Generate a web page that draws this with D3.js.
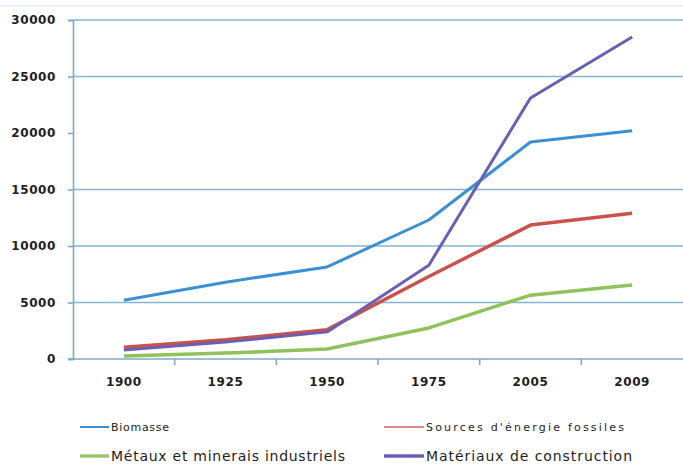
<!DOCTYPE html>
<html>
<head>
<meta charset="utf-8">
<script src="https://cdn.jsdelivr.net/npm/d3@7/dist/d3.min.js"></script>
<style>
  html, body { margin: 0; padding: 0; background: #ffffff; }
  svg { display: block; }
  text { font-family: "DejaVu Sans", Verdana, sans-serif; fill: #1e1e1e; }
</style>
</head>
<body>
<svg id="chart" width="683" height="468"></svg>
<script>
// Consommation de matières (millions de tonnes) par grande catégorie
const years = ["1900", "1925", "1950", "1975", "2005", "2009"];
const biomasse = [5200, 6800, 8150, 12300, 19200, 20200];
const fossiles = [1050, 1700, 2600, 7300, 11850, 12900];
const metaux = [260, 520, 880, 2750, 5650, 6550];
const materiaux = [800, 1500, 2400, 8300, 23100, 28500];
const yTicks = [0, 5000, 10000, 15000, 20000, 25000, 30000];
const gridTicks = [5000, 10000, 15000, 25000, 30000];

const seriesNames = ["Biomasse", "Sources d'énergie fossiles", "Métaux et minerais industriels", "Matériaux de construction"];
const seriesColors = ["#3b8fd3", "#c9524c", "#8fc25a", "#6a5fb3"];

const series = [
  { name: seriesNames[0], values: biomasse, color: seriesColors[0], width: 3 },
  { name: seriesNames[1], values: fossiles, color: seriesColors[1], width: 3.5 },
  { name: seriesNames[2], values: metaux, color: seriesColors[2], width: 3.5 },
  { name: seriesNames[3], values: materiaux, color: seriesColors[3], width: 3 }
];

const svg = d3.select("#chart");
const plotLeft = 73, plotRight = 683, plotTop = 20, plotBottom = 359;

const x = d3.scaleBand().domain(years).range([plotLeft, plotRight]).padding(0);
const y = d3.scaleLinear().domain([0, 30000]).range([plotBottom, plotTop]);

// faint outer frame line at the top
svg.append("line")
  .attr("x1", 0).attr("x2", 683).attr("y1", 6).attr("y2", 6)
  .attr("stroke", "#e2eef4").attr("stroke-width", 1.5);

// horizontal gridlines
svg.append("g")
  .selectAll("line")
  .data(gridTicks)
  .join("line")
  .attr("x1", plotLeft).attr("x2", plotRight)
  .attr("y1", d => y(d)).attr("y2", d => y(d))
  .attr("stroke", "#86b3cf").attr("stroke-width", 1.6);

// y axis
const yAxis = d3.axisLeft(y).tickValues(yTicks).tickSize(5).tickPadding(12)
  .tickFormat(d3.format("d"));
const gy = svg.append("g").attr("transform", `translate(${plotLeft},0)`).call(yAxis);
gy.select(".domain").attr("stroke", "#7fa9c4").attr("stroke-width", 1.6);
gy.selectAll(".tick line").attr("stroke", "#7fa9c4").attr("stroke-width", 1.6);
gy.selectAll(".tick text")
  .attr("font-size", 12).attr("font-weight", "bold")
  .attr("letter-spacing", "0.6px")
  .style("font-family", "'DejaVu Sans', sans-serif")
  .attr("fill", "#222");

// x axis with ticks at category boundaries
const xAxis = d3.axisBottom(x).tickSize(0).tickPadding(18);
const gx = svg.append("g").attr("transform", `translate(0,${plotBottom})`).call(xAxis);
gx.select(".domain").remove();
gx.selectAll(".tick text")
  .attr("font-size", 12).attr("font-weight", "bold")
  .attr("letter-spacing", "0.6px")
  .style("font-family", "'DejaVu Sans', sans-serif")
  .attr("fill", "#222");
svg.append("line")
  .attr("x1", plotLeft - 5).attr("x2", plotRight)
  .attr("y1", plotBottom).attr("y2", plotBottom)
  .attr("stroke", "#7fa9c4").attr("stroke-width", 1.6);
svg.append("g")
  .selectAll("line")
  .data(years.slice(1))
  .join("line")
  .attr("x1", d => x(d)).attr("x2", d => x(d))
  .attr("y1", plotBottom).attr("y2", plotBottom + 6)
  .attr("stroke", "#7fa9c4").attr("stroke-width", 1.6);

// series lines
const line = d3.line()
  .x((d, i) => x(years[i]) + x.bandwidth() / 2)
  .y(d => y(d));

svg.append("g")
  .selectAll("path")
  .data(series)
  .join("path")
  .attr("fill", "none")
  .attr("stroke", d => d.color)
  .attr("stroke-width", d => d.width)
  .attr("stroke-linejoin", "round")
  .attr("d", d => line(d.values));

// legend: two rows, two columns
const legendItems = [
  { name: seriesNames[0], color: seriesColors[0], lx: 80, ly: 427, len: 29, w: 2, fs: 11, tl: 58 },
  { name: seriesNames[1], color: "#d98a86", lx: 384, ly: 427, len: 40, w: 2, fs: 11, tl: 198 },
  { name: seriesNames[2], color: "#9cc46c", lx: 80, ly: 456, len: 29, w: 3.5, fs: 14, tl: 234 },
  { name: seriesNames[3], color: seriesColors[3], lx: 384, ly: 456, len: 40, w: 3.5, fs: 14, tl: 206 }
];

const lg = svg.append("g").selectAll("g").data(legendItems).join("g");
lg.append("line")
  .attr("x1", d => d.lx).attr("x2", d => d.lx + d.len)
  .attr("y1", d => d.ly).attr("y2", d => d.ly)
  .attr("stroke", d => d.color).attr("stroke-width", d => d.w);
lg.append("text")
  .attr("x", d => d.lx + d.len + 2)
  .attr("y", d => d.ly)
  .attr("dy", "0.36em")
  .attr("font-size", d => d.fs)
  .attr("textLength", d => d.tl)
  .attr("lengthAdjust", "spacing")
  .attr("fill", "#222")
  .text(d => d.name);
</script>
</body>
</html>
